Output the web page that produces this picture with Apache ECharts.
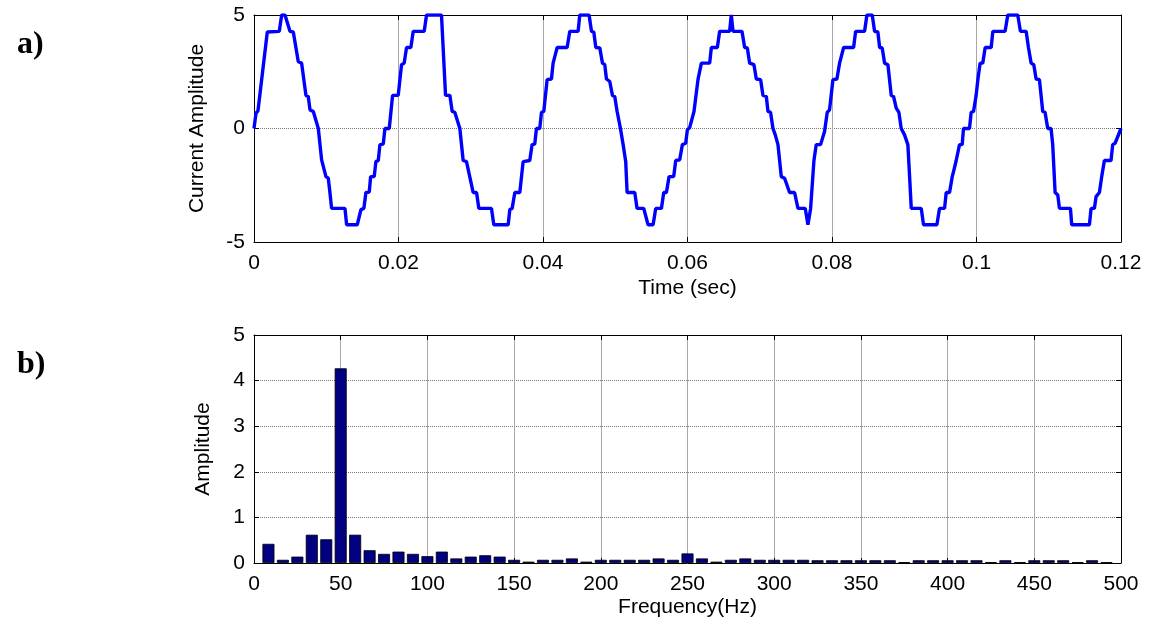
<!DOCTYPE html>
<html>
<head>
<meta charset="UTF-8">
<script src="https://cdn.jsdelivr.net/npm/echarts@6/dist/echarts.min.js"></script>
<style>
html, body { margin: 0; padding: 0; background: #fff; }
#main { width: 1152px; height: 624px; }
</style>
</head>
<body>
<div id="main"></div>
<script type="text/javascript">
// a) current waveform, time in ms (axis labels shown in sec)
var timeMs = [
  0, 0.28, 0.55, 1.84, 3.50, 3.83, 4.29, 4.98, 5.44, 6.13, 6.59, 7.19, 7.51, 7.75, 8.21, 8.90, 9.36, 9.96, 10.28, 10.51, 10.74, 12.59, 12.82, 14.29, 14.80, 15.21, 15.49, 15.95, 16.14, 16.64, 16.87, 17.20, 17.43, 17.89, 18.12, 18.72, 19.18, 19.96,
  20.42, 20.79, 21.11, 21.71, 22.04, 23.56, 23.88, 25.95, 26.51, 27.11, 27.43, 27.80, 28.49, 28.95, 29.41, 30.01, 30.33, 30.80, 31.12, 32.87, 33.19, 35.18, 35.41, 35.73, 36.10, 36.79, 37.25, 38.17, 38.49, 38.86, 39.09, 39.55,
  39.79, 40.11, 40.57, 41.17, 41.40, 41.63, 41.96, 43.34, 43.71, 44.86, 45.09, 46.38, 46.71, 47.03, 47.31, 47.86, 48.23, 48.55, 48.78, 49.24, 49.61, 49.93, 50.26, 50.49, 50.72, 51.09, 51.45, 51.64, 52.70, 53.02, 53.94, 54.54, 55.24, 55.60, 56.39, 56.71, 57.08, 57.45, 58.09, 58.37, 58.92, 59.29, 59.75,
  59.98, 60.30, 60.90, 61.45, 61.68, 61.92, 63.07, 63.30, 64.13, 64.45, 65.83, 66.06, 66.30, 67.54, 67.91, 68.28, 68.60, 69.20, 69.52, 70.12, 70.44, 70.91, 71.14, 71.50, 71.83, 72.15, 72.52, 72.98, 73.44, 74.13, 74.82, 75.29, 76.30, 76.67, 77.04, 77.50, 77.82, 78.42, 78.97, 79.34, 79.66,
  80.13, 80.68, 81.05, 81.28, 81.61, 82.99, 83.27, 84.51, 84.83, 85.57, 85.89, 86.35, 86.59, 86.95, 87.28, 87.74, 88.20, 88.52, 88.89, 89.26, 89.58, 90.04, 90.50, 90.74, 90.97, 92.35, 92.67, 94.52, 94.88, 95.58, 95.81, 96.27, 96.64, 96.82, 97.19, 97.42, 97.65, 98.02, 98.20, 99.03, 99.26, 99.59,
  99.95, 100.20, 100.50, 100.87, 101.20, 102.03, 102.26, 103.96, 104.33, 105.71, 106.08, 106.87, 107.19, 107.56, 107.93, 108.25, 108.71, 109.17, 109.49, 109.86, 110.32, 110.55, 110.88, 111.25, 111.48, 113.00, 113.18, 115.63, 115.86, 116.32, 116.55, 117.01, 117.33, 117.70, 118.62, 118.85, 119.18, 120.00
];
var current = [
  0, 0.68, 0.78, 4.25, 4.28, 5.0, 5.0, 4.28, 4.25, 2.94, 2.88, 1.46, 1.41, 0.82, 0.75, 0, -1.38, -2.12, -2.19, -2.82, -3.52, -3.52, -4.24, -4.24, -3.57, -3.52, -2.82, -2.80, -2.12, -2.12, -1.46, -1.41, -0.71, -0.69, 0, 0, 1.46, 1.46,
  2.81, 2.88, 3.57, 3.57, 4.28, 4.28, 5.0, 5.0, 1.46, 1.46, 0.75, 0.71, 0, -1.41, -1.46, -2.34, -2.82, -2.82, -3.52, -3.52, -4.24, -4.24, -3.57, -3.52, -2.82, -2.82, -1.46, -1.41, -0.71, -0.69, 0, 0,
  0.71, 0.75, 2.15, 2.18, 2.88, 2.88, 3.57, 3.57, 4.28, 4.28, 5.0, 5.0, 4.28, 4.25, 3.57, 3.55, 2.88, 2.81, 2.18, 2.07, 1.46, 1.41, 0.75, 0.71, 0, -0.71, -1.46, -2.82, -2.82, -3.52, -3.52, -4.24, -4.24, -3.52, -3.52, -2.82, -2.82, -2.12, -2.12, -1.41, -1.38, -0.71, -0.65,
  -0.06, 0.04, 0.75, 2.15, 2.18, 2.88, 2.88, 3.57, 3.57, 4.28, 4.28, 5.0, 4.28, 4.28, 3.57, 3.55, 2.88, 2.81, 2.18, 2.15, 1.46, 1.41, 0.75, 0.71, 0, -0.28, -0.71, -2.12, -2.19, -2.82, -2.82, -3.52, -3.52, -4.24, -3.52, -1.41, -0.71, -0.71, -0.13, 0.71, 0.82,
  2.15, 2.18, 2.88, 2.88, 3.57, 3.57, 4.28, 4.28, 5.0, 5.0, 4.28, 4.25, 3.57, 3.55, 2.88, 2.81, 1.46, 1.41, 0.90, 0.71, 0, -0.28, -0.71, -2.12, -3.52, -3.52, -4.24, -4.24, -3.52, -3.52, -2.82, -2.82, -2.12, -1.90, -1.41, -1.41, -0.71, -0.71, 0, 0, 0.71, 0.75,
  1.46, 2.18, 2.88, 2.88, 3.57, 3.57, 4.28, 4.28, 5.0, 5.0, 4.28, 4.28, 3.57, 2.88, 2.81, 2.18, 2.15, 0.75, 0.71, 0, 0, -0.71, -2.82, -2.93, -3.52, -3.52, -4.24, -4.24, -3.52, -3.52, -3.0, -2.82, -2.12, -1.41, -1.41, -0.71, -0.65, 0
];

// b) spectrum
var freqHz = [
  8.33, 16.67, 25, 33.33, 41.67, 50, 58.33, 66.67, 75, 83.33, 91.67, 100,
  108.33, 116.67, 125, 133.33, 141.67, 150, 158.33, 166.67, 175, 183.33, 191.67, 200,
  208.33, 216.67, 225, 233.33, 241.67, 250, 258.33, 266.67, 275, 283.33, 291.67, 300,
  308.33, 316.67, 325, 333.33, 341.67, 350, 358.33, 366.67, 375, 383.33, 391.67, 400,
  408.33, 416.67, 425, 433.33, 441.67, 450, 458.33, 466.67, 475, 483.33, 491.67
];
var amplitude = [
  0.42, 0.07, 0.14, 0.62, 0.52, 4.27, 0.62, 0.28, 0.20, 0.25, 0.20, 0.15,
  0.25, 0.10, 0.14, 0.17, 0.14, 0.07, 0.03, 0.07, 0.07, 0.10, 0.03, 0.07,
  0.07, 0.07, 0.07, 0.10, 0.07, 0.21, 0.10, 0.03, 0.07, 0.10, 0.07, 0.07,
  0.07, 0.07, 0.06, 0.06, 0.06, 0.06, 0.06, 0.06, 0.02, 0.06, 0.06, 0.06,
  0.06, 0.06, 0.02, 0.06, 0.02, 0.06, 0.06, 0.06, 0.02, 0.06, 0.02
];

var FONT = 'Liberation Sans, Arial, sans-serif';
var tickFont = { fontFamily: FONT, fontSize: 21, color: '#000' };
var nameFont = { fontFamily: FONT, fontSize: 21, color: '#000' };

function boxAxis(pos, gridIndex, min, max, interval) {
    return {
        type: 'value', gridIndex: gridIndex, position: pos,
        min: min, max: max, interval: interval,
        axisLine: { show: true, onZero: false, lineStyle: { color: '#000', width: 1 } },
        axisTick: { show: true, inside: true, length: 5, lineStyle: { color: '#000' } },
        axisLabel: { show: false },
        splitLine: { show: false }
    };
}

var myChart = echarts.init(document.getElementById('main'), null, { renderer: 'canvas' });

var option = {
    animation: false,
    backgroundColor: '#fff',
    title: [
        { text: 'a)', left: 12, top: 24, textStyle: { fontFamily: 'Liberation Serif, Times New Roman, serif', fontWeight: 'bold', fontSize: 32, color: '#000' } },
        { text: 'b)', left: 12, top: 344, textStyle: { fontFamily: 'Liberation Serif, Times New Roman, serif', fontWeight: 'bold', fontSize: 32, color: '#000' } }
    ],
    grid: [
        { left: 254, right: 31, top: 15, height: 227, show: false },
        { left: 254, right: 31, top: 335, height: 228, show: false }
    ],
    xAxis: [
        {
            type: 'value', gridIndex: 0, position: 'bottom',
            min: 0, max: 120, interval: 20,
            name: 'Time (sec)', nameLocation: 'middle', nameGap: 36, nameTextStyle: nameFont,
            axisLine: { show: true, onZero: false, lineStyle: { color: '#000' } },
            axisTick: { show: true, inside: true, length: 5, lineStyle: { color: '#000' } },
            axisLabel: Object.assign({ margin: 11, formatter: function (v) { return String(+(v / 1000).toFixed(2)); } }, tickFont),
            splitLine: { show: true, lineStyle: { color: '#a8a8a8', width: 1, type: 'solid' } }
        },
        boxAxis('top', 0, 0, 120, 20),
        {
            type: 'value', gridIndex: 1, position: 'bottom',
            min: 0, max: 500, interval: 50,
            name: 'Frequency(Hz)', nameLocation: 'middle', nameGap: 34, nameTextStyle: nameFont,
            axisLine: { show: true, onZero: false, lineStyle: { color: '#000' } },
            axisTick: { show: true, inside: true, length: 5, lineStyle: { color: '#000' } },
            axisLabel: Object.assign({ margin: 11 }, tickFont),
            splitLine: { show: true, lineStyle: { color: '#a8a8a8', width: 1, type: 'solid' } }
        },
        boxAxis('top', 1, 0, 500, 50)
    ],
    yAxis: [
        {
            type: 'value', gridIndex: 0, position: 'left',
            min: -5, max: 5, interval: 5,
            name: 'Current Amplitude', nameLocation: 'middle', nameGap: 46, nameTextStyle: nameFont,
            axisLine: { show: true, onZero: false, lineStyle: { color: '#000' } },
            axisTick: { show: true, inside: true, length: 5, lineStyle: { color: '#000' } },
            axisLabel: Object.assign({ margin: 9 }, tickFont),
            splitLine: { show: true, lineStyle: { color: '#777', width: 1, type: 'dotted' } }
        },
        boxAxis('right', 0, -5, 5, 5),
        {
            type: 'value', gridIndex: 1, position: 'left',
            min: 0, max: 5, interval: 1,
            name: 'Amplitude', nameLocation: 'middle', nameGap: 40, nameTextStyle: nameFont,
            axisLine: { show: true, onZero: false, lineStyle: { color: '#000' } },
            axisTick: { show: true, inside: true, length: 5, lineStyle: { color: '#000' } },
            axisLabel: Object.assign({ margin: 9 }, tickFont),
            splitLine: { show: true, lineStyle: { color: '#777', width: 1, type: 'dotted' } }
        },
        boxAxis('right', 1, 0, 5, 1)
    ],
    series: [
        {
            name: 'Current',
            type: 'line',
            xAxisIndex: 0, yAxisIndex: 0,
            showSymbol: false,
            clip: true,
            lineStyle: { color: '#0000ff', width: 3.4 },
            data: timeMs.map(function (t, i) { return [t, current[i]]; })
        },
        {
            name: 'Amplitude',
            type: 'bar',
            xAxisIndex: 2, yAxisIndex: 2,
            barWidth: 12,
            itemStyle: { color: '#000080', borderColor: '#000', borderWidth: 0.8 },
            data: freqHz.map(function (f, i) { return [f, amplitude[i]]; })
        }
    ]
};

myChart.setOption(option);
</script>
</body>
</html>
